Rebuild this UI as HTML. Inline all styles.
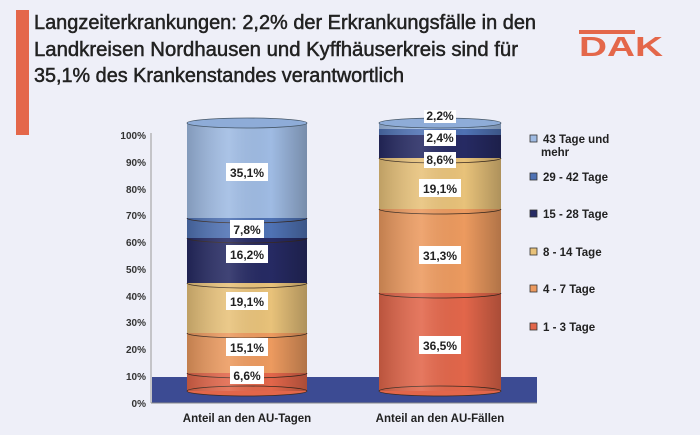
<!DOCTYPE html>
<html><head><meta charset="utf-8"><style>
body{margin:0;width:700px;height:430px;background:#eeeff8;overflow:hidden;font-family:"Liberation Sans",Arial,sans-serif}
</style></head><body>
<svg width="700" height="430" xmlns="http://www.w3.org/2000/svg" font-family="Liberation Sans, Arial, sans-serif">
<defs>
<linearGradient id="sh" x1="0" x2="1" y1="0" y2="0">
<stop offset="0" stop-color="#000" stop-opacity="0.18"/>
<stop offset="0.35" stop-color="#fff" stop-opacity="0.12"/>
<stop offset="0.7" stop-color="#000" stop-opacity="0"/>
<stop offset="1" stop-color="#000" stop-opacity="0.25"/>
</linearGradient>
</defs>
<rect width="700" height="430" fill="#eeeff8"/>
<rect x="16" y="10" width="13" height="125" fill="#e4674a"/>
<g font-size="20" fill="#222" stroke="#222" stroke-width="0.5">
<text x="34" y="29" textLength="502" lengthAdjust="spacingAndGlyphs">Langzeiterkrankungen: 2,2% der Erkrankungsfälle in den</text>
<text x="34" y="56" textLength="484" lengthAdjust="spacingAndGlyphs">Landkreisen Nordhausen und Kyffhäuserkreis sind für</text>
<text x="34" y="82" textLength="370" lengthAdjust="spacingAndGlyphs">35,1% des Krankenstandes verantwortlich</text>
</g>
<rect x="579" y="30" width="56" height="4" fill="#e4674a"/>
<text x="579" y="56" font-size="28" font-weight="bold" fill="#e4674a" textLength="84" lengthAdjust="spacingAndGlyphs">DAK</text>
<!-- axis -->
<g font-size="10" font-weight="bold" fill="#333" text-anchor="end">
<text x="146" y="139">100%</text><text x="146" y="166">90%</text><text x="146" y="193">80%</text><text x="146" y="219">70%</text><text x="146" y="246">60%</text><text x="146" y="273">50%</text><text x="146" y="300">40%</text><text x="146" y="326">30%</text><text x="146" y="353">20%</text><text x="146" y="380">10%</text><text x="146" y="407">0%</text>
</g>
<line x1="151" y1="133" x2="151" y2="403" stroke="#999"/>
<rect x="152" y="377" width="385" height="26" fill="#3c4b93"/>
<line x1="151" y1="403" x2="537" y2="403" stroke="#888"/>
<!-- cylinder 1 -->
<g stroke="#3a2a20" stroke-width="0.8">
<rect x="187" y="373" width="120" height="18" fill="#e2664a" stroke="none"/>
<ellipse cx="247" cy="391" rx="60" ry="5" fill="#e2664a"/>
<rect x="187" y="333" width="120" height="40" fill="#ec9a5f" stroke="none"/>
<path d="M187 373 A60 5 0 0 0 307 373" fill="none"/>
<rect x="187" y="283" width="120" height="50" fill="#e8c27a" stroke="none"/>
<path d="M187 333 A60 5 0 0 0 307 333" fill="none"/>
<rect x="187" y="238" width="120" height="45" fill="#262a63" stroke="none"/>
<path d="M187 283 A60 5 0 0 0 307 283" fill="none"/>
<rect x="187" y="218" width="120" height="20" fill="#4f72b4" stroke="none"/>
<path d="M187 238 A60 5 0 0 0 307 238" fill="none"/>
<rect x="187" y="123" width="120" height="95" fill="#9fbbe3" stroke="none"/>
<path d="M187 218 A60 5 0 0 0 307 218" fill="none"/>
<rect x="187" y="123" width="120" height="268" fill="url(#sh)" stroke="none"/>
<ellipse cx="247" cy="123" rx="60" ry="5" fill="#8eacd8" stroke="#456"/>
</g>
<!-- cylinder 2 -->
<g stroke="#3a2a20" stroke-width="0.8">
<rect x="379" y="293" width="122" height="98" fill="#e2664a" stroke="none"/>
<ellipse cx="440" cy="391" rx="61" ry="5" fill="#e2664a"/>
<rect x="379" y="209" width="122" height="84" fill="#ec9a5f" stroke="none"/>
<path d="M379 293 A61 5 0 0 0 501 293" fill="none"/>
<rect x="379" y="158" width="122" height="51" fill="#e8c27a" stroke="none"/>
<path d="M379 209 A61 5 0 0 0 501 209" fill="none"/>
<rect x="379" y="135" width="122" height="23" fill="#262a63" stroke="none"/>
<path d="M379 158 A61 5 0 0 0 501 158" fill="none"/>
<rect x="379" y="129" width="122" height="6" fill="#4f72b4" stroke="none"/>
<rect x="379" y="123" width="122" height="6" fill="#9fbbe3" stroke="none"/>
<rect x="379" y="123" width="122" height="268" fill="url(#sh)" stroke="none"/>
<ellipse cx="440" cy="123" rx="61" ry="5" fill="#8eacd8" stroke="#456"/>
</g>
<!-- labels -->
<g font-size="12" font-weight="bold" fill="#222" text-anchor="middle">
<rect x="226" y="163" width="42" height="18" fill="#fff"/><text x="247" y="177">35,1%</text>
<rect x="230" y="220" width="34" height="18" fill="#fff"/><text x="247" y="234">7,8%</text>
<rect x="226" y="245" width="42" height="18" fill="#fff"/><text x="247" y="259">16,2%</text>
<rect x="226" y="292" width="42" height="18" fill="#fff"/><text x="247" y="306">19,1%</text>
<rect x="226" y="338" width="42" height="18" fill="#fff"/><text x="247" y="352">15,1%</text>
<rect x="230" y="366" width="34" height="18" fill="#fff"/><text x="247" y="380">6,6%</text>
<rect x="424" y="110" width="32" height="13" fill="#fff"/><text x="440" y="120">2,2%</text>
<rect x="424" y="130" width="32" height="16" fill="#fff"/><text x="440" y="142">2,4%</text>
<rect x="424" y="152" width="32" height="16" fill="#fff"/><text x="440" y="164">8,6%</text>
<rect x="419" y="179" width="42" height="18" fill="#fff"/><text x="440" y="193">19,1%</text>
<rect x="419" y="246" width="42" height="18" fill="#fff"/><text x="440" y="260">31,3%</text>
<rect x="419" y="336" width="42" height="18" fill="#fff"/><text x="440" y="350">36,5%</text>
</g>
<g font-size="11.5" font-weight="bold" fill="#222" text-anchor="middle">
<text x="247" y="422">Anteil an den AU-Tagen</text>
<text x="440" y="422">Anteil an den AU-Fällen</text>
</g>
<!-- legend -->
<g font-size="11.5" font-weight="bold" fill="#222" stroke-width="0.8">
<rect x="530" y="135" width="7" height="7" fill="#9fbbe3" stroke="#333"/><text x="543" y="143">43 Tage und</text><text x="541" y="156">mehr</text>
<rect x="530" y="173" width="7" height="7" fill="#4f72b4" stroke="#333"/><text x="543" y="181">29 - 42 Tage</text>
<rect x="530" y="210" width="7" height="7" fill="#262a63" stroke="#333"/><text x="543" y="218">15 - 28 Tage</text>
<rect x="530" y="248" width="7" height="7" fill="#e8c27a" stroke="#333"/><text x="543" y="256">8 - 14 Tage</text>
<rect x="530" y="285" width="7" height="7" fill="#ec9a5f" stroke="#333"/><text x="543" y="293">4 - 7 Tage</text>
<rect x="530" y="323" width="7" height="7" fill="#e2664a" stroke="#333"/><text x="543" y="331">1 - 3 Tage</text>
</g>
</svg>
</body></html>
